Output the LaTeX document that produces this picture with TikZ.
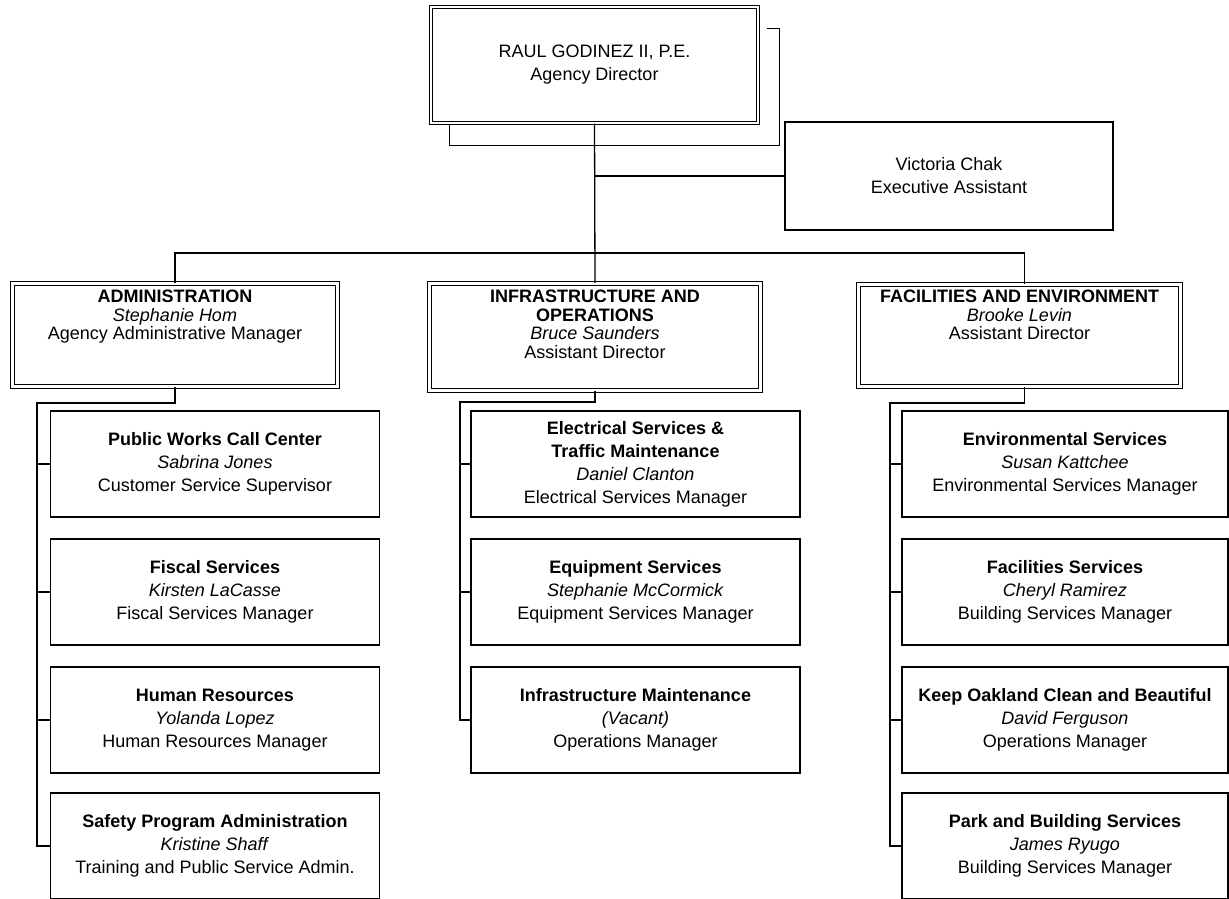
\documentclass[tikz,border=0pt]{standalone}
\usepackage{fontspec}
\setmainfont{Liberation Sans}
\usetikzlibrary{calc,positioning}

\begin{document}
\begin{tikzpicture}[x=1pt,y=-1pt,
    every node/.style={font=\fontsize{18}{23}\selectfont, align=center, inner sep=0pt},
    every label/.style={font=\fontsize{18}{18.5}\selectfont},
    unit/.style={draw, line width=1.8pt, minimum width=329pt, minimum height=106pt},
    division/.style={draw, double, line width=1.1pt, double distance=2.4pt},
    link/.style={line width=1.3pt}]
    \useasboundingbox (0,0) rectangle (1229,899);
    % director and assistant
    \node[division, minimum width=327pt, minimum height=116pt] (dir) at (594.5,65) {RAUL GODINEZ II, P.E.\\Agency Director};
    \node[unit, minimum width=328pt, minimum height=108pt] (ea) at (949,176) {Victoria Chak\\Executive Assistant};
    \draw[link] ($(dir.north east)+(8,22)$) -| ($(dir.south east)+(21,22)$) -| ($(dir.south west)+(19,0)$);
    % divisions
    \node[division, minimum width=325pt, minimum height=103pt,
      label={[anchor=north, yshift=-7pt]north:{\textbf{ADMINISTRATION}\\\textit{Stephanie Hom}\\Agency Administrative Manager}}] (adm) at (175,335) {};
    \node[division, minimum width=331pt, minimum height=107pt,
      label={[anchor=north, yshift=-7pt]north:{\textbf{INFRASTRUCTURE AND}\\\textbf{OPERATIONS}\\\textit{Bruce Saunders}\\Assistant Director}}] (io) at (595,337) {};
    \node[division, minimum width=322pt, minimum height=102pt,
      label={[anchor=north, yshift=-6pt]north:{\textbf{FACILITIES AND ENVIRONMENT}\\\textit{Brooke Levin}\\Assistant Director}}] (fe) at (1019.5,335.5) {};
    % administration units
    \node[unit] (a1) at (215,464) {\textbf{Public Works Call Center}\\\textit{Sabrina Jones}\\Customer Service Supervisor};
    \node[unit] (a2) at (215,592) {\textbf{Fiscal Services}\\\textit{Kirsten LaCasse}\\Fiscal Services Manager};
    \node[unit] (a3) at (215,720) {\textbf{Human Resources}\\\textit{Yolanda Lopez}\\Human Resources Manager};
    \node[unit] (a4) at (215,846) {\textbf{Safety Program Administration}\\\textit{Kristine Shaff}\\Training and Public Service Admin.};
    % infrastructure units
    \node[unit] (i1) at (635.5,464) {\textbf{Electrical Services \&}\\\textbf{Traffic Maintenance}\\\textit{Daniel Clanton}\\Electrical Services Manager};
    \node[unit] (i2) at (635.5,592) {\textbf{Equipment Services}\\\textit{Stephanie McCormick}\\Equipment Services Manager};
    \node[unit] (i3) at (635.5,720) {\textbf{Infrastructure Maintenance}\\\textit{(Vacant)}\\Operations Manager};
    % facilities units
    \node[unit, minimum width=326pt] (f1) at (1065,464) {\textbf{Environmental Services}\\\textit{Susan Kattchee}\\Environmental Services Manager};
    \node[unit, minimum width=326pt] (f2) at (1065,592) {\textbf{Facilities Services}\\\textit{Cheryl Ramirez}\\Building Services Manager};
    \node[unit, minimum width=326pt] (f3) at (1065,720) {\textbf{Keep Oakland Clean and Beautiful}\\\textit{David Ferguson}\\Operations Manager};
    \node[unit, minimum width=326pt] (f4) at (1065,846) {\textbf{Park and Building Services}\\\textit{James Ryugo}\\Building Services Manager};
    % top connectors
    \coordinate (bus) at (596,253);
    \draw[link] (dir.south) -- (io.north);
    \draw[link] (dir.south |- ea.west) -- (ea.west);
    \draw[link] (adm.north) |- (bus) -| ([xshift=5pt]fe.north);
    % spines
    \coordinate (aS) at (37,403);
    \draw[link] (adm.south) |- (aS) |- (a4.west);
    \draw[link] (aS |- a1.west) -- (a1.west);
    \draw[link] (aS |- a2.west) -- (a2.west);
    \draw[link] (aS |- a3.west) -- (a3.west);
    \coordinate (iS) at (460,402);
    \draw[link] (io.south) |- (iS) |- (i3.west);
    \draw[link] (iS |- i1.west) -- (i1.west);
    \draw[link] (iS |- i2.west) -- (i2.west);
    \coordinate (fS) at (890,403);
    \draw[link] ([xshift=5pt]fe.south) |- (fS) |- (f4.west);
    \draw[link] (fS |- f1.west) -- (f1.west);
    \draw[link] (fS |- f2.west) -- (f2.west);
    \draw[link] (fS |- f3.west) -- (f3.west);
\end{tikzpicture}
\end{document}
